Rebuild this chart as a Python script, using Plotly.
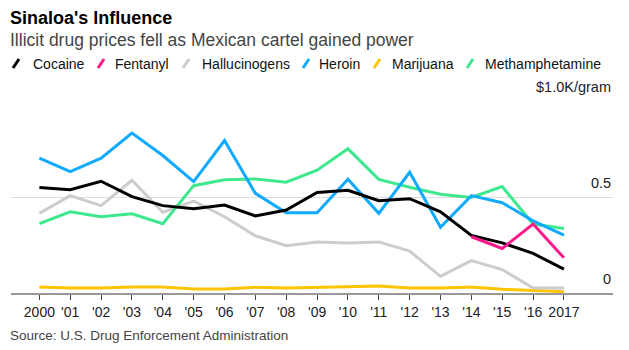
import plotly.graph_objects as go

years = list(range(2000, 2018))
tick_labels = ["2000", "'01", "'02", "'03", "'04", "'05", "'06", "'07", "'08", "'09",
               "'10", "'11", "'12", "'13", "'14", "'15", "'16", "2017"]

cocaine = [0.549, 0.538, 0.582, 0.502, 0.455, 0.439, 0.458, 0.401, 0.432, 0.524,
           0.535, 0.481, 0.491, 0.423, 0.300, 0.261, 0.206, 0.124]
fentanyl_years = [2014, 2015, 2016, 2017]
fentanyl = [0.293, 0.232, 0.359, 0.183]
hallucinogens = [0.415, 0.507, 0.455, 0.587, 0.420, 0.479, 0.397, 0.298, 0.246, 0.266,
                 0.261, 0.266, 0.218, 0.087, 0.169, 0.122, 0.026, 0.026]
heroin = [0.702, 0.632, 0.702, 0.833, 0.716, 0.580, 0.794, 0.519, 0.418, 0.418,
          0.592, 0.415, 0.629, 0.342, 0.507, 0.470, 0.376, 0.301]
marijuana = [0.031, 0.026, 0.026, 0.031, 0.031, 0.021, 0.021, 0.030, 0.026, 0.031,
             0.033, 0.036, 0.026, 0.026, 0.031, 0.019, 0.012, 0.007]
meth = [0.361, 0.423, 0.397, 0.413, 0.361, 0.559, 0.590, 0.594, 0.577, 0.640,
        0.751, 0.592, 0.551, 0.514, 0.498, 0.554, 0.359, 0.336]

y_ticks = [0, 0.5, 1.0]
y_tick_labels = ["0", "0.5", "$1.0K/gram"]

series = [
    ("Cocaine", years, cocaine, "#000000"),
    ("Fentanyl", fentanyl_years, fentanyl, "#ff1a8c"),
    ("Hallucinogens", years, hallucinogens, "#cccccc"),
    ("Heroin", years, heroin, "#10aaff"),
    ("Marijuana", years, marijuana, "#ffc400"),
    ("Methamphetamine", years, meth, "#3ee88e"),
]
# draw order (bottom to top)
draw_order = ["Marijuana", "Hallucinogens", "Methamphetamine", "Heroin", "Cocaine", "Fentanyl"]

W, H = 629, 350
ML, MR, MT, MB = 11, 16, 101, 57
PW, PH = W - ML - MR, H - MT - MB


def px(x):
    return (x - ML) / PW


def py(y):
    return (H - MB - y) / PH


FONT = "Liberation Sans, Arial, sans-serif"

fig = go.Figure()
lookup = {s[0]: s for s in series}
for name in draw_order:
    n, xs, ys, c = lookup[name]
    fig.add_trace(go.Scatter(x=xs, y=ys, mode="lines", name=n,
                             line=dict(color=c, width=3), showlegend=False,
                             hoverinfo="skip"))

# custom legend with slanted swatches
legend_slash_cx = [16, 101, 186, 306, 377, 470]
legend_text_x = [31, 113, 200, 317, 390, 483]
shapes = []
annotations = []
for (n, xs, ys, c), sx, tx in zip(series, legend_slash_cx, legend_text_x):
    shapes.append(dict(type="line", xref="paper", yref="paper",
                       x0=px(sx - 3), y0=py(68), x1=px(sx + 3), y1=py(59),
                       line=dict(color=c, width=3)))
    annotations.append(dict(xref="paper", yref="paper", x=px(tx), y=py(63.5),
                            xanchor="left", yanchor="middle", text=n, showarrow=False,
                            font=dict(family=FONT, size=14, color="#111")))

# y-axis labels sitting above their gridlines on the right
for v, t in zip(y_ticks, y_tick_labels):
    annotations.append(dict(xref="paper", yref="y", x=1.0, y=v, xanchor="right",
                            yanchor="bottom", yshift=4, text=t, showarrow=False,
                            font=dict(family=FONT, size=14.5, color="#222")))

annotations += [
    dict(xref="paper", yref="paper", x=px(8), y=py(17.5), xanchor="left", yanchor="middle",
         text="<b>Sinaloa's Influence</b>", showarrow=False,
         font=dict(family=FONT, size=18, color="#000")),
    dict(xref="paper", yref="paper", x=px(8), y=py(40), xanchor="left", yanchor="middle",
         text="Illicit drug prices fell as Mexican cartel gained power", showarrow=False,
         font=dict(family=FONT, size=17.5, color="#444")),
    dict(xref="paper", yref="paper", x=px(8), y=py(335), xanchor="left", yanchor="middle",
         text="Source: U.S. Drug Enforcement Administration", showarrow=False,
         font=dict(family=FONT, size=13.5, color="#444")),
]

fig.update_layout(
    width=W, height=H,
    margin=dict(l=ML, r=MR, t=MT, b=MB, pad=0),
    paper_bgcolor="white", plot_bgcolor="white",
    showlegend=False,
    shapes=shapes, annotations=annotations,
    xaxis=dict(range=[1999.08, 2018.59], tickvals=years, ticktext=tick_labels,
               ticks="outside", ticklen=5, tickcolor="#444", tickwidth=1,
               showline=True, linecolor="#999", linewidth=2, showgrid=False,
               zeroline=False, tickfont=dict(family=FONT, size=14, color="#222"),
               fixedrange=True),
    yaxis=dict(range=[0, 1.0], tickvals=y_ticks, showticklabels=False, showgrid=True,
               gridcolor="#dddddd", gridwidth=1, zeroline=False, showline=False,
               ticks="", fixedrange=True),
)

fig.write_html("out.html")
